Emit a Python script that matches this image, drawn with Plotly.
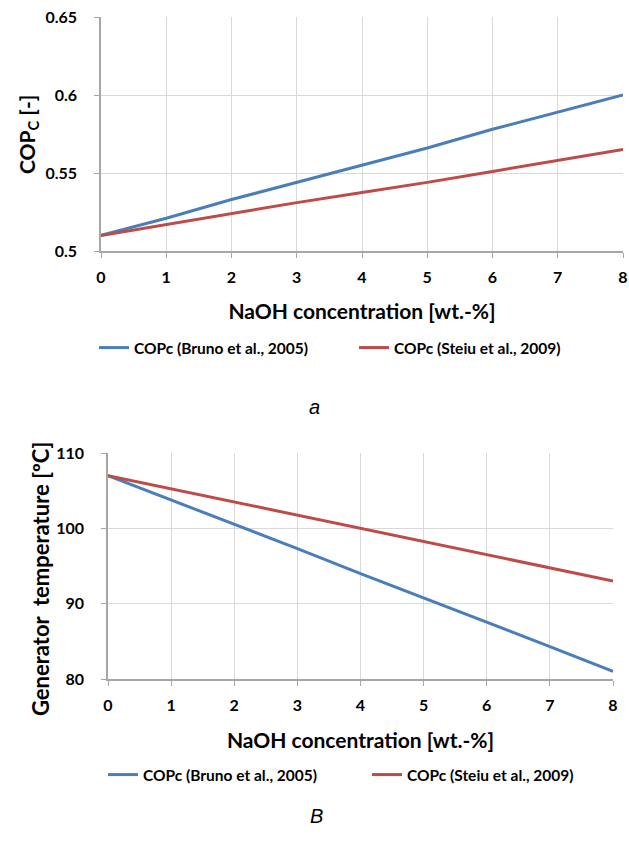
import plotly.graph_objects as go

W, H = 629, 843

# Data
naoh = [0, 1, 2, 3, 4, 5, 6, 7, 8]
cop_bruno = [0.510, 0.521, 0.533, 0.544, 0.555, 0.566, 0.578, 0.589, 0.600]
cop_steiu = [0.510, 0.517, 0.524, 0.531, 0.5375, 0.544, 0.551, 0.558, 0.565]
tgen_bruno = [107.0, 103.8, 100.5, 97.3, 94.0, 90.8, 87.5, 84.3, 81.0]
tgen_steiu = [107.0, 105.25, 103.5, 101.75, 100.0, 98.25, 96.5, 94.75, 93.0]
name_bruno = "COPc (Bruno et al., 2005)"
name_steiu = "COPc (Steiu et al., 2009)"
cop_ticks = [0.5, 0.55, 0.6, 0.65]
cop_ticktext = ["0.5", "0.55", "0.6", "0.65"]

BLUE = "#4A7EBB"
RED = "#BE4B48"
FONT = "Lato"
GRID = "#D9D9D9"
AXIS = "#A6A6A6"

def px_x(p):
    return p / W

def px_y(p):
    return 1 - p / H

fig = go.Figure()
fig.add_trace(go.Scatter(x=naoh, y=cop_bruno, mode="lines", name=name_bruno, showlegend=True,
                         line=dict(color=BLUE, width=3), xaxis="x", yaxis="y", legend="legend2"))
fig.add_trace(go.Scatter(x=naoh, y=cop_steiu, mode="lines", name=name_steiu, showlegend=True,
                         line=dict(color=RED, width=3), xaxis="x", yaxis="y", legend="legend3"))
fig.add_trace(go.Scatter(x=naoh, y=tgen_bruno, mode="lines", name=name_bruno, showlegend=True,
                         line=dict(color=BLUE, width=3), xaxis="x2", yaxis="y2", legend="legend4"))
fig.add_trace(go.Scatter(x=naoh, y=tgen_steiu, mode="lines", name=name_steiu, showlegend=True,
                         line=dict(color=RED, width=3), xaxis="x2", yaxis="y2", legend="legend5"))

tickfont = dict(family=FONT, size=16, color="#000000", weight="bold")
titlefont = dict(family=FONT, size=21, color="#000000", weight="bold")
legfont = dict(family=FONT, size=15.5, color="#000000", weight="bold")

common_x = dict(range=[0, 8], dtick=1, showgrid=True, gridcolor=GRID, gridwidth=1,
                showline=True, linecolor=AXIS, linewidth=1.5, ticks="outside", ticklen=5,
                tickcolor=AXIS, tickfont=tickfont, zeroline=False, ticklabelstandoff=6,
                automargin=False, mirror=False)
common_y = dict(showgrid=True, gridcolor=GRID, gridwidth=1,
                showline=True, linecolor=AXIS, linewidth=1.5, ticks="outside", ticklen=5,
                tickcolor=AXIS, tickfont=tickfont, zeroline=False, ticklabelstandoff=14,
                automargin=False)

def leg(xp, yp):
    return dict(orientation="h", x=px_x(xp), xanchor="left", y=px_y(yp), yanchor="middle",
                font=legfont, bgcolor="rgba(0,0,0,0)", itemwidth=30)

fig.update_layout(
    width=W, height=H,
    margin=dict(l=0, r=0, t=0, b=0),
    paper_bgcolor="white", plot_bgcolor="white",
    showlegend=True,
    font=dict(family=FONT, color="#000000"),
    xaxis=dict(common_x, domain=[px_x(101), px_x(623)], anchor="y",
               title=dict(text="NaOH concentration [wt.-%]", font=titlefont, standoff=19)),
    yaxis=dict(common_y, domain=[px_y(251), px_y(17)], anchor="x", range=[0.5, 0.65],
               tickvals=cop_ticks, ticktext=cop_ticktext),
    xaxis2=dict(common_x, domain=[px_x(108), px_x(613)], anchor="y2",
                title=dict(text="NaOH concentration [wt.-%]", font=titlefont, standoff=20)),
    yaxis2=dict(common_y, domain=[px_y(679), px_y(453)], anchor="x2", range=[80, 110],
                dtick=10),
    legend2=leg(94, 348),
    legend3=leg(354, 348),
    legend4=leg(103, 775),
    legend5=leg(367, 775),
    annotations=[
        dict(text="COP<sub>C</sub> [-]", x=px_x(28), y=px_y(134), xref="paper", yref="paper",
             textangle=-90, showarrow=False, xanchor="center", yanchor="middle", font=titlefont),
        dict(text="Generator  temperature [ºC]", x=px_x(40), y=px_y(579), xref="paper", yref="paper",
             textangle=-90, showarrow=False, xanchor="center", yanchor="middle",
             font=dict(titlefont, size=22)),
        dict(text="<i>a</i>", x=px_x(315), y=px_y(407), xref="paper", yref="paper",
             showarrow=False, font=dict(family="Liberation Sans", size=20, color="#000000")),
        dict(text="<i>B</i>", x=px_x(317), y=px_y(829), xref="paper", yref="paper",
             showarrow=False, font=dict(family="Liberation Sans", size=20, color="#000000")),
    ],
)

fig.write_html("out.html")
